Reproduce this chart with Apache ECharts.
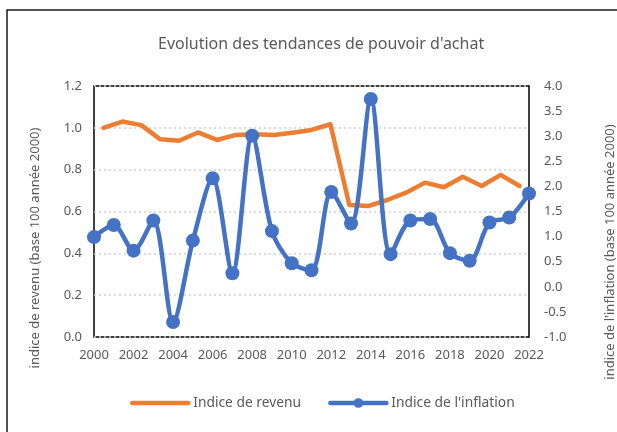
<!DOCTYPE html>
<html>
<head>
    <meta charset="UTF-8">
    <title>Evolution des tendances de pouvoir d'achat</title>
    <script src="https://cdn.jsdelivr.net/npm/echarts@6/dist/echarts.min.js"></script>
    <style>
        html, body { margin: 0; padding: 0; background: #fff; }
    </style>
</head>
<body>
<div id="container" style="width: 617px; height: 432px;"></div>
<script>

    // données
    var annees = ['2000', '2001', '2002', '2003', '2004', '2005', '2006', '2007', '2008', '2009', '2010', '2011',
        '2012', '2013', '2014', '2015', '2016', '2017', '2018', '2019', '2020', '2021', '2022'];

    var revenu = [1.00, 1.03, 1.013, 0.945, 0.938, 0.978, 0.942, 0.966, 0.969, 0.966, 0.977, 0.99,
        1.017, 0.631, 0.626, 0.655, 0.69, 0.738, 0.716, 0.766, 0.722, 0.775, 0.722];

    var inflation = [0.99, 1.23, 0.72, 1.32, -0.70, 0.92, 2.16, 0.27, 3.01, 1.11, 0.47, 0.33,
        1.89, 1.26, 3.74, 0.65, 1.32, 1.35, 0.67, 0.52, 1.28, 1.38, 1.86];

    var gris = '#595959';
    var police = 'Noto Sans';

    var mychart = echarts.init(document.getElementById('container'));

    var option = {
        animation: false,
        backgroundColor: '#fff',
        textStyle: { fontFamily: police },
        title: {
            text: "Evolution des tendances de pouvoir d'achat",
            left: 153,
            top: 31,
            textStyle: { color: gris, fontSize: 16, fontWeight: 'normal', fontFamily: police }
        },
        legend: {
            left: 130,
            top: 396,
            padding: 0,
            itemWidth: 56,
            itemHeight: 12,
            itemGap: 27,
            textStyle: { color: gris, fontSize: 13.8, fontFamily: police },
            lineStyle: { cap: 'round', width: 4.5 },
            data: [
                // pas de marqueur pour la courbe de revenu
                { name: 'Indice de revenu', itemStyle: { color: 'rgba(0,0,0,0)', borderWidth: 0 } },
                { name: "Indice de l'inflation" }
            ]
        },
        grid: {
            left: 94,
            right: 88,
            top: 86,
            bottom: 95,
            show: true,
            borderColor: '#000',
            borderWidth: 1.5
        },
        graphic: [
            {
                type: 'rect',
                shape: { x: 7, y: 10, width: 700, height: 500 },
                style: { fill: 'none', stroke: '#1a1a1a', lineWidth: 1.5 },
                silent: true
            },
            {
                type: 'text',
                x: 35,
                y: 248,
                rotation: Math.PI / 2,
                style: {
                    text: 'indice de revenu (base 100 année 2000)',
                    fill: gris, font: '13px "Noto Sans"',
                    align: 'center', verticalAlign: 'middle'
                }
            },
            {
                type: 'text',
                x: 610,
                y: 252,
                rotation: Math.PI / 2,
                style: {
                    text: "indice de l'inflation (base 100 année 2000)",
                    fill: gris, font: '13px "Noto Sans"',
                    align: 'center', verticalAlign: 'middle'
                }
            }
        ],
        xAxis: [
            {
                type: 'category',
                data: annees,
                boundaryGap: false,
                axisLine: { show: false },
                axisTick: { show: false },
                axisLabel: { interval: 1, color: gris, fontSize: 13, margin: 12 }
            },
            {
                // axe secondaire (caché) : la courbe de revenu est décalée d'une demi-case
                type: 'category',
                data: annees,
                boundaryGap: true,
                show: false
            }
        ],
        yAxis: [
            {
                type: 'value',
                min: 0,
                max: 1.2,
                interval: 0.2,
                axisLine: { show: false },
                axisTick: { show: false },
                axisLabel: {
                    color: gris, fontSize: 13, margin: 12,
                    formatter: function (v) { return v.toFixed(1); }
                },
                splitLine: { lineStyle: { color: '#d0d0d0', width: 1.5, type: [2, 3] } }
            },
            {
                type: 'value',
                min: -1,
                max: 4,
                interval: 0.5,
                axisLine: { show: false },
                axisTick: { show: false },
                axisLabel: {
                    color: gris, fontSize: 13, margin: 15,
                    formatter: function (v) { return v.toFixed(1); }
                },
                splitLine: { show: false }
            }
        ],
        series: [
            {
                name: 'Indice de revenu',
                type: 'line',
                xAxisIndex: 1,
                yAxisIndex: 0,
                data: revenu,
                symbol: 'none',
                lineStyle: { color: '#ED7D31', width: 4.5, cap: 'round', join: 'round' },
                itemStyle: { color: '#ED7D31' }
            },
            {
                name: "Indice de l'inflation",
                type: 'line',
                xAxisIndex: 0,
                yAxisIndex: 1,
                data: inflation,
                smooth: 0.3,
                symbol: 'circle',
                symbolSize: 14,
                showAllSymbol: true,
                lineStyle: { color: '#4472C4', width: 4.5, cap: 'round', join: 'round' },
                itemStyle: { color: '#4472C4' }
            }
        ]
    };

    mychart.setOption(option);

</script>
</body>
</html>
